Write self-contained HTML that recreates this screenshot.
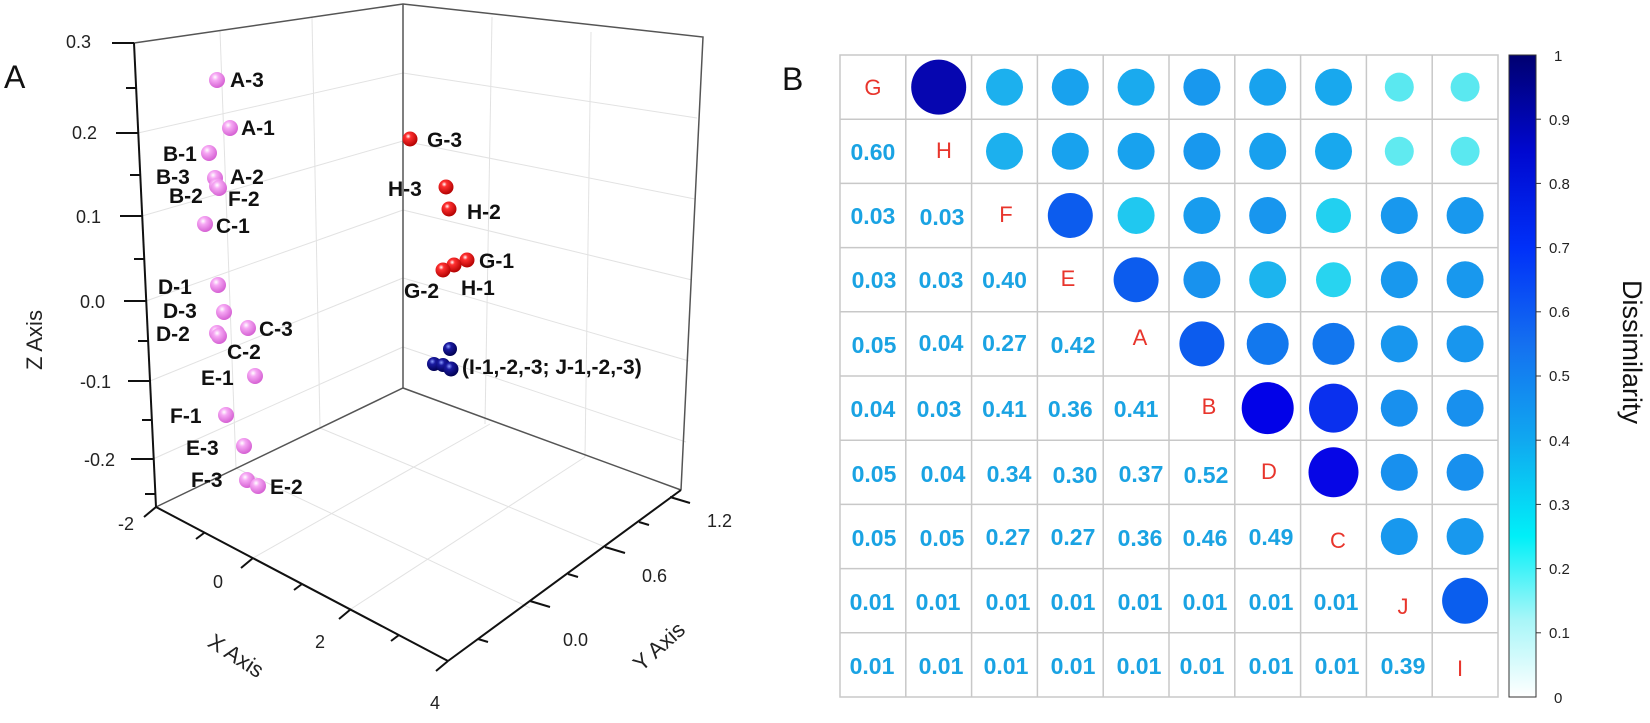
<!DOCTYPE html>
<html><head><meta charset="utf-8"><style>
html,body{margin:0;padding:0;background:#fff;}
svg{display:block;font-family:"Liberation Sans",Arial,sans-serif;}
.lb{font-weight:bold;font-size:21px;fill:#111;}
.tk{font-size:18px;fill:#222;}
.n{font-weight:bold;font-size:23px;fill:#1aa3e3;text-anchor:middle;}
.d{font-size:22px;fill:#e8352c;text-anchor:middle;}
.cb{font-size:15px;fill:#222;}
</style></head><body>
<svg width="1650" height="723" viewBox="0 0 1650 723" xmlns="http://www.w3.org/2000/svg">
<defs>
<radialGradient id="pk" cx="0.38" cy="0.32" r="0.7"><stop offset="0" stop-color="#fff"/><stop offset="0.3" stop-color="#f6a8f4"/><stop offset="1" stop-color="#d45ed2"/></radialGradient>
<radialGradient id="rd" cx="0.38" cy="0.32" r="0.7"><stop offset="0" stop-color="#fff"/><stop offset="0.25" stop-color="#ff3030"/><stop offset="1" stop-color="#b00000"/></radialGradient>
<radialGradient id="bl" cx="0.38" cy="0.32" r="0.7"><stop offset="0" stop-color="#8899ff"/><stop offset="0.3" stop-color="#1a1aa0"/><stop offset="1" stop-color="#000050"/></radialGradient>
<linearGradient id="cbg" x1="0" y1="1" x2="0" y2="0">
<stop offset="0" stop-color="#ffffff"/><stop offset="0.12" stop-color="#a8f6f8"/><stop offset="0.25" stop-color="#00f0f8"/><stop offset="0.4" stop-color="#10a8f0"/><stop offset="0.55" stop-color="#1470f0"/><stop offset="0.7" stop-color="#0030f8"/><stop offset="0.85" stop-color="#0008d0"/><stop offset="1" stop-color="#000070"/></linearGradient>
</defs>

<!-- Panel A -->
<text x="4" y="88" font-size="32" fill="#111">A</text>
<g stroke="#e2e2e2" stroke-width="1" fill="none">
<!-- left wall horizontal grids -->
<line x1="138" y1="133" x2="403" y2="73"/>
<line x1="142" y1="216" x2="403" y2="141"/>
<line x1="146" y1="301" x2="403" y2="210"/>
<line x1="150" y1="381" x2="403" y2="278"/>
<line x1="153" y1="459" x2="403" y2="347"/>
<!-- right wall horizontal grids -->
<line x1="403" y1="73" x2="697" y2="118"/>
<line x1="403" y1="141" x2="695" y2="199"/>
<line x1="403" y1="210" x2="692" y2="280"/>
<line x1="403" y1="278" x2="689" y2="361"/>
<line x1="403" y1="347" x2="686" y2="442"/>
<!-- vertical grids -->
<line x1="220" y1="31" x2="236" y2="468"/>
<line x1="312" y1="18" x2="320" y2="428"/>
<line x1="492" y1="17" x2="485" y2="424"/>
<line x1="591" y1="32" x2="585" y2="457"/>
<!-- floor grids -->
<line x1="253" y1="558" x2="490" y2="424"/>
<line x1="351" y1="609" x2="585" y2="457"/>
<line x1="236" y1="468" x2="530" y2="608"/>
<line x1="320" y1="428" x2="605" y2="547"/>
</g>
<g stroke="#555" stroke-width="1.5" fill="none">
<polyline points="134,43 403,4 703,37 681,490"/>
<polyline points="156,507 403,388 681,490"/>
<line x1="403" y1="4" x2="403" y2="388"/>
</g>
<g stroke="#111" stroke-width="2" fill="none">
<line x1="134" y1="43" x2="156" y2="507"/>
<line x1="156" y1="507" x2="448" y2="661"/>
<line x1="448" y1="661" x2="681" y2="490"/>
<!-- z ticks -->
<line x1="112" y1="43" x2="134" y2="43"/><line x1="126" y1="88" x2="136" y2="88"/>
<line x1="116" y1="133" x2="138" y2="133"/><line x1="130" y1="175" x2="140" y2="175"/>
<line x1="120" y1="216" x2="142" y2="216"/><line x1="134" y1="259" x2="144" y2="259"/>
<line x1="124" y1="301" x2="146" y2="301"/><line x1="138" y1="341" x2="148" y2="341"/>
<line x1="128" y1="381" x2="150" y2="381"/><line x1="142" y1="420" x2="152" y2="420"/>
<line x1="131" y1="459" x2="153" y2="459"/><line x1="145" y1="494" x2="155" y2="494"/>
<!-- x ticks -->
<line x1="156" y1="507" x2="144" y2="517"/>
<line x1="204" y1="533" x2="196" y2="539"/>
<line x1="253" y1="558" x2="241" y2="568"/>
<line x1="302" y1="584" x2="294" y2="590"/>
<line x1="351" y1="609" x2="339" y2="619"/>
<line x1="399" y1="635" x2="391" y2="641"/>
<line x1="448" y1="661" x2="436" y2="671"/>
<!-- y ticks -->
<line x1="478" y1="639" x2="488" y2="642"/>
<line x1="530" y1="601" x2="550" y2="607"/>
<line x1="568" y1="574" x2="578" y2="577"/>
<line x1="605" y1="547" x2="625" y2="553"/>
<line x1="639" y1="522" x2="649" y2="525"/>
<line x1="670" y1="497" x2="690" y2="503"/>
</g>
<g class="tk">
<text x="66" y="48">0.3</text><text x="72" y="139">0.2</text><text x="76" y="223">0.1</text>
<text x="80" y="308">0.0</text><text x="80" y="388">-0.1</text><text x="84" y="466">-0.2</text>
<text x="118" y="530">-2</text><text x="213" y="588">0</text><text x="315" y="648">2</text><text x="430" y="709">4</text>
<text x="563" y="646">0.0</text><text x="642" y="582">0.6</text><text x="707" y="527">1.2</text>
</g>
<text transform="translate(42,340) rotate(-90)" font-size="22" fill="#222" text-anchor="middle">Z Axis</text>
<text transform="translate(232,662) rotate(33)" font-size="22" fill="#222" text-anchor="middle">X Axis</text>
<text transform="translate(664,652) rotate(-42)" font-size="22" fill="#222" text-anchor="middle">Y Axis</text>

<g fill="url(#pk)">
<circle cx="217" cy="80" r="8"/><circle cx="230" cy="128" r="8"/><circle cx="209" cy="153" r="8"/>
<circle cx="215" cy="178" r="8"/><circle cx="217" cy="186" r="8"/><circle cx="219" cy="188" r="8"/>
<circle cx="205" cy="224" r="8"/><circle cx="218" cy="285" r="8"/><circle cx="224" cy="312" r="8"/>
<circle cx="217" cy="333" r="8"/><circle cx="219" cy="336" r="8"/><circle cx="248" cy="328" r="8"/>
<circle cx="255" cy="376" r="8"/><circle cx="226" cy="415" r="8"/><circle cx="244" cy="446" r="8"/>
<circle cx="247" cy="480" r="8"/><circle cx="258" cy="486" r="8"/>
</g>
<g fill="url(#rd)">
<circle cx="410" cy="139" r="7.5"/><circle cx="446" cy="187" r="7.5"/><circle cx="449" cy="209" r="7.5"/>
<circle cx="467" cy="260" r="7.5"/><circle cx="454" cy="265" r="7.5"/><circle cx="443" cy="270" r="7.5"/>
</g>
<g fill="url(#bl)">
<circle cx="450" cy="349" r="7"/><circle cx="434" cy="364" r="7"/><circle cx="443" cy="365" r="7"/><circle cx="451" cy="369" r="7.5"/>
</g>
<g class="lb">
<text x="230" y="87">A-3</text><text x="241" y="135">A-1</text><text x="163" y="161">B-1</text>
<text x="156" y="184">B-3</text><text x="230" y="184">A-2</text><text x="169" y="203">B-2</text>
<text x="228" y="206">F-2</text><text x="216" y="233">C-1</text><text x="158" y="294">D-1</text>
<text x="163" y="318">D-3</text><text x="156" y="341">D-2</text><text x="259" y="336">C-3</text>
<text x="227" y="359">C-2</text><text x="201" y="385">E-1</text><text x="170" y="423">F-1</text>
<text x="186" y="455">E-3</text><text x="191" y="487">F-3</text><text x="270" y="494">E-2</text>
<text x="427" y="147">G-3</text><text x="388" y="196">H-3</text><text x="467" y="219">H-2</text>
<text x="479" y="268">G-1</text><text x="461" y="295">H-1</text><text x="404" y="298">G-2</text>
<text x="462" y="374">(I-1,-2,-3; J-1,-2,-3)</text>
</g>

<!-- Panel B -->
<text x="782" y="90" font-size="32" fill="#111">B</text>
<g stroke="#c8c8c8" stroke-width="1.5" fill="none">
<rect x="840" y="55" width="658" height="642"/>
<line x1="905.8" y1="55" x2="905.8" y2="697"/><line x1="971.6" y1="55" x2="971.6" y2="697"/>
<line x1="1037.4" y1="55" x2="1037.4" y2="697"/><line x1="1103.2" y1="55" x2="1103.2" y2="697"/>
<line x1="1169" y1="55" x2="1169" y2="697"/><line x1="1234.8" y1="55" x2="1234.8" y2="697"/>
<line x1="1300.6" y1="55" x2="1300.6" y2="697"/><line x1="1366.4" y1="55" x2="1366.4" y2="697"/>
<line x1="1432.2" y1="55" x2="1432.2" y2="697"/>
<line x1="840" y1="119.2" x2="1498" y2="119.2"/><line x1="840" y1="183.4" x2="1498" y2="183.4"/>
<line x1="840" y1="247.6" x2="1498" y2="247.6"/><line x1="840" y1="311.8" x2="1498" y2="311.8"/>
<line x1="840" y1="376" x2="1498" y2="376"/><line x1="840" y1="440.2" x2="1498" y2="440.2"/>
<line x1="840" y1="504.4" x2="1498" y2="504.4"/><line x1="840" y1="568.6" x2="1498" y2="568.6"/>
<line x1="840" y1="632.8" x2="1498" y2="632.8"/>
</g>
<!-- circles -->
<circle cx="938.7" cy="87.1" r="27.5" fill="#0606b0"/>
<circle cx="1004.5" cy="87.1" r="18.5" fill="#1cb0ee"/>
<circle cx="1070.3" cy="87.1" r="18.5" fill="#18a2ee"/>
<circle cx="1136.1" cy="87.1" r="18.5" fill="#1aaaee"/>
<circle cx="1201.9" cy="87.1" r="18.5" fill="#1898ee"/>
<circle cx="1267.7" cy="87.1" r="18.5" fill="#18a2ee"/>
<circle cx="1333.5" cy="87.1" r="18.5" fill="#18a8ee"/>
<circle cx="1399.3" cy="87.1" r="14.5" fill="#5ae8f0"/>
<circle cx="1465.1" cy="87.1" r="14.5" fill="#5ae8f0"/>
<circle cx="1004.5" cy="151.3" r="18.5" fill="#1cb0ee"/>
<circle cx="1070.3" cy="151.3" r="18.5" fill="#18a2ee"/>
<circle cx="1136.1" cy="151.3" r="18.5" fill="#18a2ee"/>
<circle cx="1201.9" cy="151.3" r="18.5" fill="#1898ee"/>
<circle cx="1267.7" cy="151.3" r="18.5" fill="#18a0ee"/>
<circle cx="1333.5" cy="151.3" r="18.5" fill="#18a8ee"/>
<circle cx="1399.3" cy="151.3" r="14.5" fill="#60eaf0"/>
<circle cx="1465.1" cy="151.3" r="14.5" fill="#5ae8f0"/>
<circle cx="1070.3" cy="215.5" r="22.5" fill="#0c5cee"/>
<circle cx="1136.1" cy="215.5" r="18.5" fill="#20c8f0"/>
<circle cx="1201.9" cy="215.5" r="18.5" fill="#189cee"/>
<circle cx="1267.7" cy="215.5" r="18.5" fill="#1896ee"/>
<circle cx="1333.5" cy="215.5" r="17.5" fill="#22d0f0"/>
<circle cx="1399.3" cy="215.5" r="18.5" fill="#1898ee"/>
<circle cx="1465.1" cy="215.5" r="18.5" fill="#1898ee"/>
<circle cx="1136.1" cy="279.7" r="22.5" fill="#0c5cee"/>
<circle cx="1201.9" cy="279.7" r="18.5" fill="#1892ee"/>
<circle cx="1267.7" cy="279.7" r="18.5" fill="#1cb4ee"/>
<circle cx="1333.5" cy="279.7" r="17.5" fill="#28d4f0"/>
<circle cx="1399.3" cy="279.7" r="18.5" fill="#1898ee"/>
<circle cx="1465.1" cy="279.7" r="18.5" fill="#1898ee"/>
<circle cx="1201.9" cy="343.9" r="22.5" fill="#0c5cee"/>
<circle cx="1267.7" cy="343.9" r="21" fill="#1278ee"/>
<circle cx="1333.5" cy="343.9" r="21" fill="#1276ee"/>
<circle cx="1399.3" cy="343.9" r="18.5" fill="#1896ee"/>
<circle cx="1465.1" cy="343.9" r="18.5" fill="#1896ee"/>
<circle cx="1267.7" cy="408.1" r="26" fill="#0202e8"/>
<circle cx="1333.5" cy="408.1" r="24.5" fill="#0a30ee"/>
<circle cx="1399.3" cy="408.1" r="18.5" fill="#1890ee"/>
<circle cx="1465.1" cy="408.1" r="18.5" fill="#1890ee"/>
<circle cx="1333.5" cy="472.3" r="25" fill="#0606e6"/>
<circle cx="1399.3" cy="472.3" r="18.5" fill="#1890ee"/>
<circle cx="1465.1" cy="472.3" r="18.5" fill="#1890ee"/>
<circle cx="1399.3" cy="536.5" r="18.5" fill="#1898ee"/>
<circle cx="1465.1" cy="536.5" r="18.5" fill="#1898ee"/>
<circle cx="1465.1" cy="600.7" r="23" fill="#0a5eee"/>
<!-- diagonal labels -->
<g class="d">
<text x="872.9" y="95">G</text><text x="944" y="158">H</text><text x="1006" y="222">F</text>
<text x="1068" y="286">E</text><text x="1140" y="345">A</text><text x="1209" y="414">B</text>
<text x="1269" y="479">D</text><text x="1338" y="548">C</text><text x="1403" y="614">J</text>
<text x="1460" y="676">I</text>
</g>
<g class="n">
<text x="872.9" y="160">0.60</text>
<text x="872.9" y="224">0.03</text><text x="942" y="225">0.03</text>
<text x="874" y="288">0.03</text><text x="941" y="288">0.03</text><text x="1004.5" y="288">0.40</text>
<text x="874" y="353">0.05</text><text x="941" y="351">0.04</text><text x="1004.5" y="351">0.27</text><text x="1073" y="353">0.42</text>
<text x="872.9" y="417">0.04</text><text x="939" y="417">0.03</text><text x="1004.5" y="417">0.41</text><text x="1070.3" y="417">0.36</text><text x="1136.1" y="417">0.41</text>
<text x="874" y="482">0.05</text><text x="943" y="482">0.04</text><text x="1009" y="482">0.34</text><text x="1075" y="483">0.30</text><text x="1141" y="482">0.37</text><text x="1206" y="483">0.52</text>
<text x="874" y="546">0.05</text><text x="942" y="546">0.05</text><text x="1008" y="545">0.27</text><text x="1073" y="545">0.27</text><text x="1140" y="546">0.36</text><text x="1205" y="546">0.46</text><text x="1271" y="545">0.49</text>
<text x="872" y="610">0.01</text><text x="938" y="610">0.01</text><text x="1008" y="610">0.01</text><text x="1073" y="610">0.01</text><text x="1140" y="610">0.01</text><text x="1205" y="610">0.01</text><text x="1271" y="610">0.01</text><text x="1336" y="610">0.01</text>
<text x="872" y="674">0.01</text><text x="941" y="674">0.01</text><text x="1006" y="674">0.01</text><text x="1073" y="674">0.01</text><text x="1139" y="674">0.01</text><text x="1202" y="674">0.01</text><text x="1271" y="674">0.01</text><text x="1337" y="674">0.01</text><text x="1403" y="674">0.39</text>
</g>
<!-- colorbar -->
<rect x="1509" y="55" width="27" height="642" fill="url(#cbg)" stroke="#333" stroke-width="1"/>
<g stroke="#333" stroke-width="1">
<line x1="1536" y1="119.2" x2="1541" y2="119.2"/><line x1="1536" y1="183.4" x2="1541" y2="183.4"/>
<line x1="1536" y1="247.6" x2="1541" y2="247.6"/><line x1="1536" y1="311.8" x2="1541" y2="311.8"/>
<line x1="1536" y1="376" x2="1541" y2="376"/><line x1="1536" y1="440.2" x2="1541" y2="440.2"/>
<line x1="1536" y1="504.4" x2="1541" y2="504.4"/><line x1="1536" y1="568.6" x2="1541" y2="568.6"/>
<line x1="1536" y1="632.8" x2="1541" y2="632.8"/>
</g>
<g class="cb">
<text x="1554" y="61">1</text><text x="1549" y="125">0.9</text><text x="1549" y="189">0.8</text>
<text x="1549" y="253">0.7</text><text x="1549" y="317">0.6</text><text x="1549" y="381">0.5</text>
<text x="1549" y="446">0.4</text><text x="1549" y="510">0.3</text><text x="1549" y="574">0.2</text>
<text x="1549" y="638">0.1</text><text x="1554" y="703">0</text>
</g>
<text transform="translate(1623,352) rotate(90)" font-size="27" fill="#111" text-anchor="middle">Dissimilarity</text>
</svg>
</body></html>
